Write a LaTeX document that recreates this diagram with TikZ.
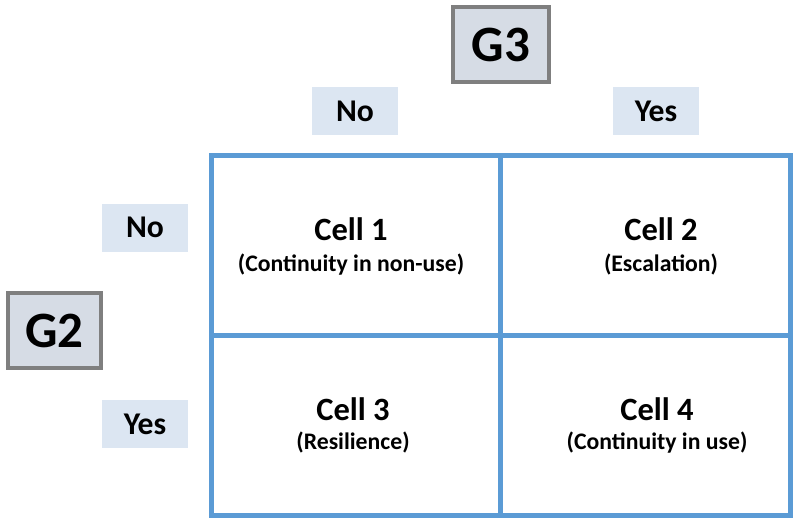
\documentclass[tikz,border=0pt]{standalone}
\usepackage{fontspec}
\setmainfont{Carlito}
\usetikzlibrary{positioning}
\definecolor{gridblue}{HTML}{5B9BD5}
\definecolor{labelblue}{HTML}{DCE6F2}
\definecolor{gamebox}{HTML}{D6DCE5}
\definecolor{gameline}{HTML}{7F7F7F}
\tikzset{
	game/.style={draw=gameline, line width=0.7mm, fill=gamebox, minimum height=1.5cm, font=\bfseries\fontsize{29}{32}\selectfont, inner sep=0pt},
	choice/.style={fill=labelblue, minimum width=1.72cm, minimum height=0.96cm, font=\bfseries\fontsize{18}{20}\selectfont, inner sep=0pt},
	celltitle/.style={anchor=base, font=\bfseries\fontsize{18.5}{21}\selectfont},
	cellnote/.style={anchor=base, font=\bfseries\fontsize{13.5}{16}\selectfont}
}

\begin{document}
\begin{tikzpicture}
		%%%%% START %%%%%
		\useasboundingbox (0, 0) rectangle (16, 10.5);
		
		% players
		\node[game, minimum width=1.92cm] (g3) at (10.02, 9.61) {G3};
		\node[game, minimum width=1.86cm] (g2) at (1.09, 3.89) {G2};
		
		% choices
		\node[choice] (g3no) at (7.1, 8.28) {No};
		\node[choice] (g3yes) at (13.12, 8.28) {Yes};
		\node[choice] (g2no) at (2.9, 5.95) {No};
		\node[choice] (g2yes) at (2.9, 2.02) {Yes};
		
		% the grid
		\draw[line width=1mm, color=gridblue] (4.22, 0.2) rectangle (15.8, 7.4);
		\draw[line width=1mm, color=gridblue] (10.0, 0.2) -- (10.0, 7.4);
		\draw[line width=1mm, color=gridblue] (4.22, 3.8) -- (15.8, 3.8);
		
		% cells
		\node[celltitle] (cell1) at (7.02, 5.7) {Cell 1};
		\node[cellnote] (note1) at (7.02, 5.08) {(Continuity in non-use)};
		\node[celltitle] (cell2) at (13.22, 5.7) {Cell 2};
		\node[cellnote] (note2) at (13.22, 5.08) {(Escalation)};
		\node[celltitle] (cell3) at (7.06, 2.1) {Cell 3};
		\node[cellnote] (note3) at (7.06, 1.52) {(Resilience)};
		\node[celltitle] (cell4) at (13.14, 2.1) {Cell 4};
		\node[cellnote] (note4) at (13.14, 1.52) {(Continuity in use)};
		
		%%%%% END %%%%%
	\end{tikzpicture}
\end{document}
